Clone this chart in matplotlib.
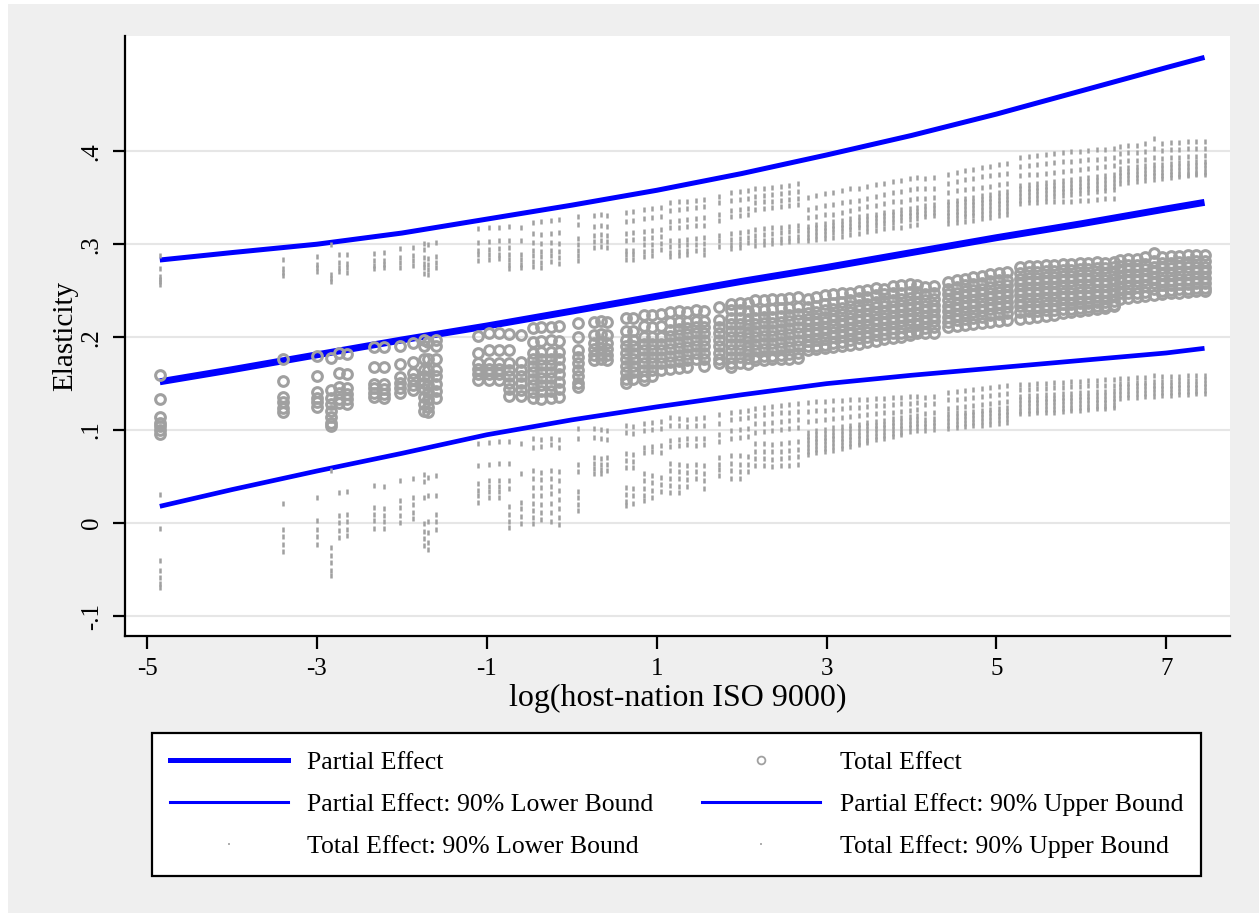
import matplotlib
matplotlib.use('Agg')
import matplotlib.pyplot as plt
from matplotlib.lines import Line2D
from matplotlib.patches import Rectangle

plt.rcParams['font.family'] = ['Liberation Serif', 'DejaVu Serif']

LINE_X = [-4.85, -4, -3, -2, -1, 0, 1, 2, 3, 4, 5, 6, 7, 7.45]
PARTIAL = [0.152, 0.165, 0.181, 0.197, 0.212, 0.228, 0.244, 0.260, 0.275, 0.291, 0.307, 0.322, 0.338, 0.345]
PARTIAL_LO = [0.018, 0.036, 0.056, 0.075, 0.095, 0.111, 0.125, 0.138, 0.150, 0.159, 0.167, 0.175, 0.183, 0.188]
PARTIAL_HI = [0.283, 0.291, 0.300, 0.312, 0.327, 0.342, 0.358, 0.376, 0.396, 0.417, 0.440, 0.465, 0.490, 0.501]

# total effect: observations grouped by x column
COL_X = [-4.85, -3.40, -3.00, -2.84, -2.74, -2.65, -2.33, -2.21, -2.02, -1.87,
         -1.74, -1.69, -1.60, -1.10, -0.98, -0.86, -0.74, -0.60, -0.46, -0.36,
         -0.25, -0.15, 0.07, 0.26, 0.34, 0.42, 0.64, 0.72, 0.85, 0.95,
         1.05, 1.16, 1.26, 1.36, 1.46, 1.56, 1.73, 1.88, 1.98, 2.07,
         2.16, 2.26, 2.36, 2.46, 2.56, 2.66,
         2.78, 2.88, 2.98, 3.08, 3.18, 3.28, 3.38, 3.48, 3.58, 3.68, 3.78, 3.88, 3.98, 4.06,
         4.16, 4.27,
         4.43, 4.53, 4.63, 4.73, 4.83, 4.93, 5.03, 5.13,
         5.28, 5.38, 5.48, 5.58, 5.68, 5.78, 5.88, 5.98, 6.08, 6.18, 6.28, 6.38,
         6.45, 6.55, 6.65, 6.75, 6.85, 6.95, 7.05, 7.15, 7.25, 7.35, 7.45]

TOTAL = [
    [0.159, 0.134, 0.114, 0.108, 0.104, 0.100, 0.096],
    [0.176, 0.153, 0.136, 0.130, 0.124, 0.119],
    [0.180, 0.158, 0.141, 0.135, 0.130, 0.125],
    [0.178, 0.143, 0.135, 0.128, 0.121, 0.114, 0.108, 0.104],
    [0.183, 0.161, 0.146, 0.140, 0.134, 0.129],
    [0.182, 0.160, 0.145, 0.139, 0.133, 0.128],
    [0.189, 0.168, 0.150, 0.145, 0.140, 0.136],
    [0.189, 0.168, 0.150, 0.144, 0.139, 0.135],
    [0.191, 0.171, 0.157, 0.151, 0.145, 0.140],
    [0.194, 0.173, 0.161, 0.155, 0.149, 0.143],
    [0.197, 0.190, 0.177, 0.165, 0.158, 0.151, 0.144, 0.136, 0.128, 0.121],
    [0.195, 0.177, 0.165, 0.157, 0.149, 0.141, 0.133, 0.125, 0.119],
    [0.197, 0.190, 0.177, 0.165, 0.158, 0.150, 0.142, 0.135],
    [0.201, 0.183, 0.172, 0.166, 0.160, 0.154],
    [0.204, 0.186, 0.172, 0.166, 0.160, 0.154],
    [0.204, 0.186, 0.172, 0.166, 0.160, 0.154],
    [0.203, 0.186, 0.172, 0.165, 0.158, 0.151, 0.144, 0.137],
    [0.202, 0.173, 0.165, 0.158, 0.151, 0.143, 0.137],
    [0.210, 0.195, 0.183, 0.176, 0.169, 0.162, 0.155, 0.148, 0.141, 0.135],
    [0.211, 0.196, 0.184, 0.177, 0.170, 0.163, 0.156, 0.149, 0.142, 0.134],
    [0.211, 0.197, 0.184, 0.177, 0.170, 0.163, 0.156, 0.149, 0.142, 0.135],
    [0.212, 0.196, 0.184, 0.176, 0.168, 0.160, 0.152, 0.144, 0.136],
    [0.215, 0.200, 0.186, 0.179, 0.172, 0.165, 0.158, 0.151, 0.146],
    [0.216, 0.202, 0.194, 0.187, 0.181, 0.175],
    [0.217, 0.203, 0.195, 0.188, 0.182, 0.176],
    [0.216, 0.202, 0.194, 0.187, 0.181, 0.175],
    [0.221, 0.207, 0.197, 0.190, 0.183, 0.176, 0.169, 0.162, 0.155, 0.151],
    [0.221, 0.207, 0.197, 0.190, 0.183, 0.176, 0.169, 0.162, 0.155],
    [0.224, 0.212, 0.200, 0.193, 0.186, 0.179, 0.172, 0.165, 0.158, 0.154],
    [0.224, 0.211, 0.200, 0.193, 0.186, 0.179, 0.172, 0.165, 0.158],
    [0.225, 0.212, 0.200, 0.193, 0.186, 0.179, 0.172, 0.165],
    [0.227, 0.216, 0.208, 0.201, 0.194, 0.187, 0.180, 0.173, 0.166],
    [0.228, 0.216, 0.209, 0.202, 0.195, 0.188, 0.181, 0.174, 0.167],
    [0.227, 0.216, 0.210, 0.203, 0.196, 0.189, 0.182, 0.175, 0.168],
    [0.229, 0.217, 0.211, 0.204, 0.197, 0.190, 0.183, 0.176],
    [0.228, 0.217, 0.211, 0.204, 0.197, 0.190, 0.183, 0.176, 0.169],
    [0.232, 0.219, 0.211, 0.204, 0.197, 0.190, 0.183, 0.176, 0.172],
    [0.236, 0.229, 0.221, 0.214, 0.207, 0.200, 0.193, 0.186, 0.179, 0.172, 0.168],
    [0.237, 0.229, 0.221, 0.214, 0.207, 0.200, 0.193, 0.186, 0.179, 0.172],
    [0.237, 0.228, 0.220, 0.213, 0.206, 0.199, 0.192, 0.185, 0.178, 0.171],
    [0.240, 0.229, 0.221, 0.214, 0.207, 0.200, 0.193, 0.186, 0.179, 0.175],
    [0.240, 0.229, 0.222, 0.215, 0.208, 0.201, 0.194, 0.187, 0.180, 0.175],
    [0.241, 0.230, 0.222, 0.215, 0.208, 0.201, 0.194, 0.187, 0.180, 0.176],
    [0.241, 0.231, 0.223, 0.216, 0.209, 0.202, 0.195, 0.188, 0.181, 0.176],
    [0.242, 0.231, 0.224, 0.217, 0.210, 0.203, 0.196, 0.189, 0.182, 0.177],
    [0.243, 0.232, 0.225, 0.218, 0.211, 0.204, 0.197, 0.190, 0.183, 0.178],
    [0.241, 0.232, 0.226, 0.220, 0.214, 0.208, 0.202, 0.196, 0.190, 0.186],
    [0.243, 0.234, 0.227, 0.221, 0.215, 0.209, 0.203, 0.197, 0.191, 0.187],
    [0.245, 0.236, 0.229, 0.222, 0.216, 0.210, 0.204, 0.198, 0.192, 0.188],
    [0.246, 0.237, 0.230, 0.224, 0.218, 0.212, 0.206, 0.200, 0.194, 0.189],
    [0.247, 0.238, 0.231, 0.225, 0.219, 0.213, 0.207, 0.201, 0.195, 0.190],
    [0.248, 0.240, 0.233, 0.227, 0.221, 0.215, 0.209, 0.203, 0.197, 0.192],
    [0.250, 0.242, 0.235, 0.229, 0.223, 0.217, 0.211, 0.205, 0.199, 0.193],
    [0.251, 0.243, 0.236, 0.230, 0.224, 0.218, 0.212, 0.206, 0.200, 0.195],
    [0.253, 0.245, 0.238, 0.232, 0.226, 0.220, 0.214, 0.208, 0.202, 0.196],
    [0.252, 0.246, 0.239, 0.233, 0.227, 0.221, 0.215, 0.209, 0.203, 0.198],
    [0.255, 0.247, 0.240, 0.234, 0.228, 0.222, 0.216, 0.210, 0.204, 0.199],
    [0.256, 0.248, 0.241, 0.235, 0.229, 0.223, 0.217, 0.211, 0.205, 0.200],
    [0.257, 0.249, 0.242, 0.236, 0.230, 0.224, 0.218, 0.212, 0.206, 0.202],
    [0.256, 0.249, 0.243, 0.237, 0.231, 0.225, 0.219, 0.213, 0.207, 0.204],
    [0.254, 0.246, 0.240, 0.234, 0.228, 0.222, 0.216, 0.210, 0.205],
    [0.255, 0.247, 0.241, 0.235, 0.229, 0.223, 0.217, 0.211, 0.205],
    [0.259, 0.252, 0.246, 0.240, 0.234, 0.228, 0.222, 0.216, 0.211],
    [0.261, 0.254, 0.248, 0.242, 0.236, 0.230, 0.224, 0.218, 0.212],
    [0.263, 0.256, 0.250, 0.244, 0.238, 0.232, 0.226, 0.220, 0.213],
    [0.265, 0.257, 0.251, 0.245, 0.239, 0.233, 0.227, 0.221, 0.214],
    [0.266, 0.258, 0.252, 0.246, 0.240, 0.234, 0.228, 0.222, 0.215],
    [0.268, 0.260, 0.254, 0.248, 0.242, 0.236, 0.230, 0.224, 0.216],
    [0.269, 0.261, 0.255, 0.249, 0.243, 0.237, 0.231, 0.225, 0.217],
    [0.270, 0.262, 0.256, 0.250, 0.244, 0.238, 0.232, 0.226, 0.218],
    [0.276, 0.269, 0.263, 0.257, 0.251, 0.245, 0.239, 0.233, 0.227, 0.220],
    [0.277, 0.270, 0.264, 0.258, 0.252, 0.246, 0.240, 0.234, 0.228, 0.221],
    [0.277, 0.270, 0.264, 0.258, 0.252, 0.246, 0.240, 0.234, 0.228, 0.222],
    [0.278, 0.271, 0.265, 0.259, 0.253, 0.247, 0.241, 0.235, 0.229, 0.223],
    [0.278, 0.271, 0.265, 0.259, 0.253, 0.247, 0.241, 0.235, 0.229, 0.224],
    [0.279, 0.272, 0.266, 0.260, 0.254, 0.248, 0.242, 0.236, 0.230, 0.226],
    [0.279, 0.272, 0.266, 0.260, 0.254, 0.248, 0.242, 0.236, 0.230, 0.227],
    [0.280, 0.273, 0.267, 0.261, 0.255, 0.249, 0.243, 0.237, 0.231, 0.228],
    [0.280, 0.273, 0.267, 0.261, 0.255, 0.249, 0.243, 0.237, 0.232, 0.229],
    [0.281, 0.274, 0.268, 0.262, 0.256, 0.250, 0.244, 0.238, 0.233, 0.230],
    [0.280, 0.274, 0.268, 0.262, 0.256, 0.250, 0.244, 0.238, 0.234, 0.231],
    [0.281, 0.275, 0.269, 0.263, 0.257, 0.251, 0.245, 0.239, 0.235, 0.233],
    [0.283, 0.277, 0.271, 0.265, 0.259, 0.253, 0.247, 0.241],
    [0.284, 0.278, 0.272, 0.266, 0.260, 0.254, 0.248, 0.242],
    [0.284, 0.278, 0.272, 0.266, 0.260, 0.254, 0.248, 0.243],
    [0.286, 0.279, 0.273, 0.267, 0.261, 0.255, 0.249, 0.244],
    [0.291, 0.282, 0.276, 0.270, 0.264, 0.258, 0.252, 0.245],
    [0.286, 0.280, 0.274, 0.268, 0.262, 0.256, 0.250, 0.246],
    [0.287, 0.280, 0.274, 0.268, 0.262, 0.256, 0.251, 0.247],
    [0.287, 0.281, 0.275, 0.269, 0.263, 0.257, 0.252, 0.248],
    [0.288, 0.281, 0.275, 0.269, 0.263, 0.257, 0.252, 0.249],
    [0.288, 0.282, 0.276, 0.270, 0.264, 0.258, 0.253, 0.250],
    [0.288, 0.282, 0.276, 0.270, 0.264, 0.258, 0.253, 0.250],
]

TOTAL_HI = [
    [0.288, 0.274, 0.266, 0.263, 0.260, 0.257],
    [0.284, 0.274, 0.270, 0.267],
    [0.287, 0.279, 0.275, 0.271],
    [0.300, 0.268, 0.264, 0.260],
    [0.290, 0.281, 0.276, 0.271],
    [0.289, 0.280, 0.275, 0.270],
    [0.291, 0.283, 0.278, 0.274],
    [0.292, 0.283, 0.279, 0.275],
    [0.296, 0.286, 0.281, 0.276],
    [0.297, 0.288, 0.283, 0.278],
    [0.301, 0.295, 0.286, 0.280, 0.275, 0.269],
    [0.300, 0.285, 0.279, 0.273, 0.268],
    [0.302, 0.287, 0.281, 0.276],
    [0.317, 0.302, 0.294, 0.289, 0.283],
    [0.318, 0.303, 0.295, 0.290, 0.284],
    [0.319, 0.304, 0.296, 0.290, 0.285],
    [0.320, 0.305, 0.297, 0.290, 0.284, 0.279, 0.274],
    [0.318, 0.305, 0.290, 0.284, 0.279, 0.275],
    [0.324, 0.312, 0.302, 0.294, 0.288, 0.282, 0.277],
    [0.325, 0.311, 0.301, 0.293, 0.287, 0.281, 0.276],
    [0.326, 0.312, 0.302, 0.294, 0.288, 0.282],
    [0.327, 0.313, 0.301, 0.293, 0.286, 0.280],
    [0.330, 0.322, 0.307, 0.300, 0.294, 0.288, 0.283],
    [0.331, 0.320, 0.310, 0.303, 0.297],
    [0.332, 0.321, 0.311, 0.304, 0.298],
    [0.331, 0.320, 0.310, 0.303, 0.297],
    [0.335, 0.325, 0.312, 0.305, 0.294, 0.289, 0.284],
    [0.336, 0.326, 0.313, 0.306, 0.294, 0.289, 0.284],
    [0.338, 0.328, 0.314, 0.307, 0.300, 0.293, 0.287],
    [0.339, 0.329, 0.315, 0.308, 0.300, 0.294, 0.288],
    [0.340, 0.330, 0.316, 0.309, 0.301, 0.295],
    [0.345, 0.337, 0.325, 0.318, 0.304, 0.298, 0.292, 0.287],
    [0.346, 0.338, 0.326, 0.319, 0.305, 0.299, 0.293, 0.288],
    [0.347, 0.339, 0.327, 0.320, 0.306, 0.300, 0.294, 0.289],
    [0.348, 0.340, 0.328, 0.321, 0.307, 0.300, 0.294],
    [0.349, 0.341, 0.329, 0.321, 0.308, 0.301, 0.295, 0.289],
    [0.352, 0.345, 0.333, 0.326, 0.310, 0.304, 0.298],
    [0.356, 0.348, 0.337, 0.330, 0.312, 0.306, 0.300, 0.296],
    [0.357, 0.349, 0.338, 0.331, 0.313, 0.307, 0.301, 0.297],
    [0.358, 0.350, 0.339, 0.332, 0.314, 0.308, 0.302],
    [0.360, 0.352, 0.345, 0.338, 0.316, 0.310, 0.304, 0.299],
    [0.361, 0.353, 0.346, 0.339, 0.317, 0.311, 0.305, 0.300],
    [0.362, 0.354, 0.347, 0.340, 0.318, 0.312, 0.306, 0.301],
    [0.363, 0.355, 0.348, 0.341, 0.319, 0.313, 0.307, 0.302],
    [0.364, 0.356, 0.349, 0.342, 0.320, 0.314, 0.308, 0.303],
    [0.366, 0.357, 0.350, 0.343, 0.321, 0.315, 0.309, 0.304],
    [0.351, 0.338, 0.329, 0.320, 0.316, 0.312, 0.308, 0.304],
    [0.353, 0.340, 0.330, 0.322, 0.318, 0.314, 0.310, 0.306],
    [0.355, 0.342, 0.332, 0.323, 0.319, 0.315, 0.311, 0.307],
    [0.356, 0.343, 0.333, 0.325, 0.321, 0.317, 0.313, 0.308],
    [0.358, 0.345, 0.335, 0.326, 0.322, 0.318, 0.314, 0.309],
    [0.360, 0.347, 0.337, 0.328, 0.324, 0.320, 0.316, 0.311],
    [0.361, 0.348, 0.339, 0.330, 0.326, 0.322, 0.318, 0.312],
    [0.363, 0.350, 0.341, 0.331, 0.327, 0.323, 0.319, 0.314],
    [0.365, 0.352, 0.342, 0.333, 0.329, 0.325, 0.321, 0.315],
    [0.366, 0.354, 0.344, 0.335, 0.331, 0.327, 0.323, 0.317],
    [0.368, 0.356, 0.346, 0.336, 0.332, 0.328, 0.324, 0.318],
    [0.369, 0.357, 0.347, 0.338, 0.334, 0.330, 0.326, 0.319],
    [0.371, 0.359, 0.349, 0.339, 0.335, 0.331, 0.327, 0.321],
    [0.372, 0.360, 0.350, 0.340, 0.336, 0.332, 0.328, 0.322],
    [0.371, 0.360, 0.350, 0.342, 0.338, 0.334, 0.330],
    [0.372, 0.361, 0.351, 0.343, 0.339, 0.335, 0.331],
    [0.376, 0.366, 0.356, 0.347, 0.343, 0.339, 0.335, 0.331, 0.327, 0.323],
    [0.378, 0.368, 0.358, 0.348, 0.344, 0.340, 0.336, 0.332, 0.328, 0.324],
    [0.380, 0.370, 0.359, 0.350, 0.346, 0.342, 0.338, 0.334, 0.330, 0.325],
    [0.381, 0.371, 0.360, 0.351, 0.347, 0.343, 0.339, 0.335, 0.331, 0.326],
    [0.383, 0.373, 0.362, 0.353, 0.349, 0.345, 0.341, 0.337, 0.333, 0.328],
    [0.384, 0.374, 0.363, 0.354, 0.350, 0.346, 0.342, 0.338, 0.334, 0.329],
    [0.386, 0.376, 0.365, 0.356, 0.352, 0.348, 0.344, 0.340, 0.336, 0.331],
    [0.387, 0.377, 0.366, 0.357, 0.353, 0.349, 0.345, 0.341, 0.337, 0.332],
    [0.394, 0.384, 0.374, 0.364, 0.360, 0.356, 0.352, 0.348, 0.344],
    [0.395, 0.385, 0.375, 0.365, 0.361, 0.357, 0.353, 0.349, 0.345],
    [0.396, 0.386, 0.376, 0.366, 0.362, 0.358, 0.354, 0.350, 0.345],
    [0.397, 0.387, 0.377, 0.367, 0.363, 0.359, 0.355, 0.351, 0.346],
    [0.398, 0.388, 0.378, 0.368, 0.364, 0.360, 0.356, 0.352, 0.346],
    [0.399, 0.389, 0.379, 0.369, 0.365, 0.361, 0.357, 0.353, 0.347],
    [0.400, 0.390, 0.380, 0.370, 0.366, 0.362, 0.358, 0.354, 0.347],
    [0.400, 0.391, 0.381, 0.371, 0.367, 0.363, 0.359, 0.355, 0.348],
    [0.401, 0.392, 0.382, 0.372, 0.368, 0.364, 0.360, 0.356, 0.348],
    [0.402, 0.392, 0.383, 0.373, 0.369, 0.365, 0.361, 0.357, 0.349],
    [0.402, 0.393, 0.384, 0.374, 0.370, 0.366, 0.362, 0.358, 0.350],
    [0.403, 0.394, 0.385, 0.375, 0.371, 0.367, 0.363, 0.359, 0.350],
    [0.406, 0.398, 0.390, 0.382, 0.378, 0.374, 0.370, 0.366],
    [0.407, 0.399, 0.391, 0.383, 0.379, 0.375, 0.371, 0.367],
    [0.407, 0.399, 0.391, 0.384, 0.380, 0.376, 0.372, 0.368],
    [0.409, 0.400, 0.392, 0.385, 0.381, 0.377, 0.373, 0.369],
    [0.414, 0.404, 0.394, 0.386, 0.382, 0.378, 0.374, 0.370],
    [0.409, 0.401, 0.393, 0.386, 0.382, 0.378, 0.374, 0.371],
    [0.410, 0.402, 0.394, 0.387, 0.383, 0.379, 0.375, 0.372],
    [0.410, 0.402, 0.394, 0.388, 0.384, 0.380, 0.376, 0.373],
    [0.411, 0.403, 0.395, 0.388, 0.384, 0.380, 0.376, 0.374],
    [0.411, 0.403, 0.395, 0.389, 0.385, 0.381, 0.377, 0.375],
    [0.411, 0.403, 0.396, 0.390, 0.386, 0.382, 0.378, 0.376],
]

TOTAL_LO = [
    [0.031, -0.005, -0.040, -0.050, -0.058, -0.064, -0.069],
    [0.022, -0.006, -0.014, -0.022, -0.030],
    [0.028, 0.003, -0.006, -0.014, -0.022],
    [0.057, -0.026, -0.034, -0.042, -0.050, -0.056],
    [0.033, 0.009, 0.001, -0.007, -0.015],
    [0.034, 0.010, 0.002, -0.006, -0.013],
    [0.041, 0.017, 0.010, 0.003, -0.005],
    [0.040, 0.016, 0.009, 0.002, -0.005],
    [0.046, 0.025, 0.017, 0.009, 0.001],
    [0.048, 0.028, 0.020, 0.012, 0.005],
    [0.053, 0.045, 0.028, 0.000, -0.008, -0.016, -0.024],
    [0.050, 0.030, 0.002, -0.010, -0.020, -0.028],
    [0.052, 0.030, 0.010, 0.002, -0.006],
    [0.086, 0.062, 0.043, 0.036, 0.030, 0.023],
    [0.087, 0.064, 0.046, 0.040, 0.034, 0.028],
    [0.088, 0.065, 0.046, 0.040, 0.034, 0.028],
    [0.088, 0.065, 0.046, 0.038, 0.018, 0.010, 0.002, -0.004],
    [0.086, 0.054, 0.023, 0.016, 0.008, 0.000],
    [0.091, 0.082, 0.057, 0.048, 0.039, 0.030, 0.022, 0.014, 0.006, 0.000],
    [0.090, 0.083, 0.055, 0.047, 0.039, 0.030, 0.021, 0.012, 0.004],
    [0.091, 0.085, 0.057, 0.048, 0.040, 0.032, 0.022, 0.012, 0.002],
    [0.090, 0.082, 0.056, 0.046, 0.036, 0.026, 0.016, 0.006, -0.001],
    [0.102, 0.092, 0.064, 0.056, 0.035, 0.028, 0.021, 0.014],
    [0.102, 0.093, 0.071, 0.065, 0.059, 0.054],
    [0.101, 0.092, 0.070, 0.064, 0.058, 0.054],
    [0.100, 0.090, 0.071, 0.064, 0.057],
    [0.105, 0.098, 0.075, 0.068, 0.060, 0.039, 0.031, 0.024, 0.019],
    [0.104, 0.097, 0.074, 0.067, 0.060, 0.038, 0.030, 0.022],
    [0.108, 0.100, 0.082, 0.076, 0.054, 0.046, 0.038, 0.030, 0.025],
    [0.109, 0.101, 0.083, 0.077, 0.052, 0.044, 0.036, 0.028],
    [0.110, 0.102, 0.084, 0.076, 0.050, 0.042, 0.034],
    [0.114, 0.106, 0.089, 0.083, 0.065, 0.057, 0.049, 0.041, 0.033],
    [0.113, 0.105, 0.090, 0.084, 0.064, 0.056, 0.048, 0.040, 0.033],
    [0.112, 0.104, 0.091, 0.085, 0.063, 0.055, 0.047, 0.040],
    [0.113, 0.105, 0.092, 0.084, 0.064, 0.056, 0.048],
    [0.114, 0.106, 0.092, 0.085, 0.062, 0.054, 0.046, 0.038],
    [0.117, 0.108, 0.096, 0.088, 0.071, 0.064, 0.058, 0.052],
    [0.120, 0.112, 0.100, 0.092, 0.073, 0.065, 0.057, 0.049],
    [0.121, 0.113, 0.101, 0.093, 0.073, 0.064, 0.056, 0.048],
    [0.122, 0.114, 0.102, 0.094, 0.072, 0.064, 0.056],
    [0.124, 0.116, 0.108, 0.098, 0.086, 0.078, 0.070, 0.062],
    [0.125, 0.117, 0.108, 0.099, 0.086, 0.078, 0.070, 0.062],
    [0.126, 0.118, 0.109, 0.100, 0.085, 0.077, 0.069, 0.061],
    [0.127, 0.119, 0.110, 0.101, 0.086, 0.078, 0.070, 0.062],
    [0.128, 0.120, 0.111, 0.102, 0.087, 0.079, 0.071, 0.063],
    [0.129, 0.121, 0.112, 0.103, 0.088, 0.080, 0.072, 0.064],
    [0.130, 0.121, 0.110, 0.098, 0.094, 0.090, 0.086, 0.082, 0.078, 0.074],
    [0.131, 0.122, 0.111, 0.100, 0.096, 0.092, 0.088, 0.084, 0.080, 0.076],
    [0.131, 0.122, 0.112, 0.101, 0.097, 0.093, 0.089, 0.085, 0.081, 0.077],
    [0.132, 0.123, 0.113, 0.103, 0.099, 0.095, 0.091, 0.087, 0.083, 0.079],
    [0.132, 0.124, 0.114, 0.104, 0.100, 0.096, 0.092, 0.088, 0.084, 0.081],
    [0.133, 0.125, 0.115, 0.106, 0.102, 0.098, 0.094, 0.090, 0.086, 0.083],
    [0.134, 0.125, 0.116, 0.107, 0.103, 0.099, 0.095, 0.091, 0.087, 0.085],
    [0.134, 0.126, 0.117, 0.109, 0.105, 0.101, 0.097, 0.093, 0.089, 0.087],
    [0.135, 0.127, 0.118, 0.110, 0.106, 0.102, 0.098, 0.094, 0.090],
    [0.135, 0.127, 0.119, 0.111, 0.107, 0.103, 0.099, 0.095, 0.092],
    [0.136, 0.128, 0.120, 0.113, 0.109, 0.105, 0.101, 0.097, 0.094],
    [0.136, 0.129, 0.121, 0.114, 0.110, 0.106, 0.102, 0.098, 0.096],
    [0.137, 0.129, 0.122, 0.115, 0.111, 0.107, 0.103, 0.099],
    [0.137, 0.130, 0.123, 0.116, 0.112, 0.108, 0.104, 0.100],
    [0.136, 0.128, 0.118, 0.112, 0.108, 0.104, 0.100],
    [0.137, 0.129, 0.119, 0.113, 0.109, 0.105, 0.101],
    [0.141, 0.133, 0.124, 0.118, 0.114, 0.110, 0.106, 0.102],
    [0.142, 0.134, 0.125, 0.119, 0.115, 0.111, 0.107, 0.103],
    [0.143, 0.135, 0.126, 0.120, 0.116, 0.112, 0.108, 0.104],
    [0.144, 0.136, 0.127, 0.121, 0.117, 0.113, 0.109, 0.105],
    [0.145, 0.137, 0.128, 0.122, 0.118, 0.114, 0.110, 0.106],
    [0.146, 0.138, 0.129, 0.123, 0.119, 0.115, 0.111, 0.107],
    [0.147, 0.139, 0.130, 0.124, 0.120, 0.116, 0.112, 0.108],
    [0.148, 0.140, 0.131, 0.125, 0.121, 0.117, 0.113, 0.109],
    [0.150, 0.144, 0.137, 0.133, 0.129, 0.125, 0.121, 0.118],
    [0.150, 0.144, 0.138, 0.134, 0.130, 0.126, 0.122, 0.118],
    [0.151, 0.145, 0.138, 0.134, 0.130, 0.126, 0.122, 0.119],
    [0.151, 0.145, 0.139, 0.135, 0.131, 0.127, 0.123, 0.120],
    [0.152, 0.146, 0.139, 0.135, 0.131, 0.127, 0.123, 0.120],
    [0.152, 0.146, 0.140, 0.136, 0.132, 0.128, 0.124, 0.121],
    [0.153, 0.147, 0.140, 0.136, 0.132, 0.128, 0.124, 0.122],
    [0.153, 0.147, 0.141, 0.137, 0.133, 0.129, 0.125, 0.122],
    [0.154, 0.148, 0.141, 0.137, 0.133, 0.129, 0.125, 0.123],
    [0.154, 0.148, 0.142, 0.138, 0.134, 0.130, 0.126, 0.124],
    [0.155, 0.149, 0.142, 0.138, 0.134, 0.130, 0.126, 0.124],
    [0.155, 0.149, 0.143, 0.139, 0.135, 0.131, 0.127, 0.125],
    [0.156, 0.151, 0.147, 0.143, 0.139, 0.135],
    [0.156, 0.151, 0.147, 0.143, 0.139, 0.136],
    [0.157, 0.152, 0.148, 0.144, 0.140, 0.136],
    [0.157, 0.152, 0.148, 0.144, 0.140, 0.137],
    [0.159, 0.153, 0.149, 0.145, 0.141, 0.137],
    [0.158, 0.153, 0.149, 0.145, 0.141, 0.138],
    [0.158, 0.153, 0.149, 0.145, 0.141, 0.138],
    [0.158, 0.154, 0.150, 0.146, 0.142, 0.139],
    [0.159, 0.154, 0.150, 0.146, 0.142, 0.139],
    [0.159, 0.154, 0.150, 0.146, 0.142, 0.140],
    [0.159, 0.155, 0.151, 0.147, 0.143, 0.140],
]

assert len(COL_X) == len(TOTAL) == len(TOTAL_HI) == len(TOTAL_LO)

X_TICKS = [-5, -3, -1, 1, 3, 5, 7]
Y_TICKS = [-0.1, 0, 0.1, 0.2, 0.3, 0.4]
Y_TICK_LABELS = ['-.1', '0', '.1', '.2', '.3', '.4']

BLUE = '#0000ff'
GREY = '#a0a0a0'


def flatten(cols):
    xs, ys = [], []
    for x, vals in zip(COL_X, cols):
        for v in vals:
            xs.append(x)
            ys.append(v)
    return xs, ys


fig = plt.figure(figsize=(12.59, 9.13), dpi=100, facecolor='white')
fig.patches.append(Rectangle((8 / 1259, 0), 1, 1 - 4 / 913, transform=fig.transFigure,
                             facecolor='#efefef', edgecolor='none', zorder=-10))

ax = fig.add_axes([125 / 1259, 1 - 636 / 913, (1230 - 125) / 1259, (636 - 36) / 913])
ax.set_facecolor('white')

ax.plot(LINE_X, PARTIAL, color=BLUE, lw=5, solid_capstyle='butt', zorder=2)
ax.plot(LINE_X, PARTIAL_LO, color=BLUE, lw=3.4, solid_capstyle='butt', zorder=2)
ax.plot(LINE_X, PARTIAL_HI, color=BLUE, lw=3.6, solid_capstyle='butt', zorder=2)

tx, ty = flatten(TOTAL)
ax.plot(tx, ty, ls='none', marker='o', ms=7.0, mfc='none', mec=GREY, mew=2.2, zorder=3)
lx, ly = flatten(TOTAL_LO)
ax.plot(lx, ly, ls='none', marker='|', ms=3.6, mew=1.8, color=GREY, zorder=3)
hx, hy = flatten(TOTAL_HI)
ax.plot(hx, hy, ls='none', marker='|', ms=3.6, mew=1.8, color=GREY, zorder=3)

ax.set_xlim(-5.26, 7.75)
ax.set_ylim(-0.1215, 0.524)
ax.set_xticks(X_TICKS)
ax.set_xticklabels([str(t) for t in X_TICKS])
ax.set_yticks(Y_TICKS)
ax.set_yticklabels(Y_TICK_LABELS, rotation=90, va='center')
ax.yaxis.grid(True, color='#e6e6e6', lw=1.5)
ax.set_axisbelow(True)

for s in ['top', 'right']:
    ax.spines[s].set_visible(False)
for s in ['left', 'bottom']:
    ax.spines[s].set_linewidth(1.6)
ax.tick_params(direction='out', length=9, width=1.6, labelsize=18, pad=7)

ax.set_xlabel('log(host-nation ISO 9000)', fontsize=23, labelpad=3)
ax.set_ylabel('Elasticity', fontsize=21, labelpad=2)

handles = [
    Line2D([], [], color=BLUE, lw=3.6),
    Line2D([], [], color=BLUE, lw=2.2),
    Line2D([], [], ls='none', marker='|', ms=2, mew=1.2, color=GREY),
    Line2D([], [], ls='none', marker='o', ms=5.6, mfc='none', mec=GREY, mew=1.3),
    Line2D([], [], color=BLUE, lw=2.2),
    Line2D([], [], ls='none', marker='|', ms=2, mew=1.2, color=GREY),
]
labels = ['Partial Effect', 'Partial Effect: 90% Lower Bound', 'Total Effect: 90% Lower Bound',
          'Total Effect', 'Partial Effect: 90% Upper Bound', 'Total Effect: 90% Upper Bound']
leg = fig.legend(handles, labels, ncol=2, loc='upper left', mode='expand',
                 bbox_to_anchor=(152 / 1259, 40 / 913, (1201 - 152) / 1259, (873 - 733) / 913),
                 fontsize=18.5, frameon=True, fancybox=False, framealpha=1,
                 edgecolor='black', borderaxespad=0, handlelength=4.6,
                 handletextpad=0.75, labelspacing=0.75, borderpad=0.7)
leg.get_frame().set_linewidth(1.6)

fig.savefig('out.png', dpi=100, facecolor=fig.get_facecolor())
